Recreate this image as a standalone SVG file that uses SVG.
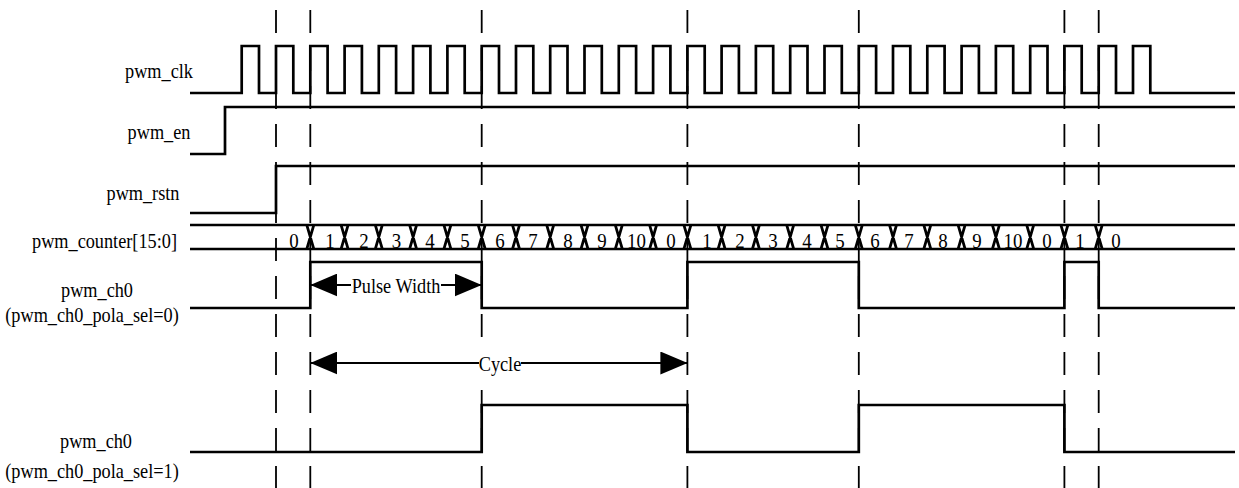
<svg xmlns="http://www.w3.org/2000/svg" width="1239" height="488" viewBox="0 0 1239 488">
<style>
.sig{fill:none;stroke:#000;stroke-width:2.7;stroke-linejoin:miter}
.dash{fill:none;stroke:#000;stroke-width:1.8;stroke-dasharray:23 15}
.lbl{font-family:"Liberation Serif","Times New Roman",serif;font-size:22px;fill:#000;text-anchor:middle}
.num{font-family:"Liberation Serif","Times New Roman",serif;font-size:21px;fill:#000;text-anchor:middle}
.dim{fill:none;stroke:#000;stroke-width:2}
.bg{fill:#fff}
</style>
<defs>
<marker id="ah" viewBox="0 0 27 23" refX="27" refY="11.5" markerWidth="27" markerHeight="23" markerUnits="userSpaceOnUse" orient="auto-start-reverse">
<path d="M0,0 L27,11.5 L0,23 Z" fill="#000"/>
</marker>
</defs>
<rect width="1239" height="488" fill="#fff"/>
<g id="guides">
<path class="dash" d="M276,10 V488 M310.3,10 V488 M481.7,10 V488 M687.4,10 V488 M858.8,10 V488 M1064.4,10 V488 M1098.7,10 V488"/>
</g>
<g id="pwm_clk">
<text class="lbl" transform="translate(159,78) scale(0.83,1)">pwm_clk</text>
<path class="sig" d="M190,93 H241.7 V46 H259 V93 H276 V46 H293.3 V93 H310.3 V46 H327.6 V93 H344.6 V46 H361.9 V93 H378.8 V46 H396.1 V93 H413.1 V46 H430.4 V93 H447.4 V46 H464.7 V93 H481.7 V46 H499 V93 H516 V46 H533.3 V93 H550.2 V46 H567.5 V93 H584.5 V46 H601.8 V93 H618.8 V46 H636.1 V93 H653.1 V46 H670.4 V93 H687.4 V46 H704.7 V93 H721.6 V46 H738.9 V93 H755.9 V46 H773.2 V93 H790.2 V46 H807.5 V93 H824.5 V46 H841.8 V93 H858.8 V46 H876.1 V93 H893 V46 H910.3 V93 H927.3 V46 H944.6 V93 H961.6 V46 H978.9 V93 H995.9 V46 H1013.2 V93 H1030.2 V46 H1047.5 V93 H1064.4 V46 H1081.7 V93 H1098.7 V46 H1116 V93 H1133 V46 H1150.3 V93 H1235"/>
</g>
<g id="pwm_en">
<text class="lbl" transform="translate(159,139) scale(0.83,1)">pwm_en</text>
<path class="sig" d="M190,154 H225 V107 H1235"/>
</g>
<g id="pwm_rstn">
<text class="lbl" transform="translate(143,200) scale(0.83,1)">pwm_rstn</text>
<path class="sig" d="M190,213 H276 V166 H1235"/>
</g>
<g id="pwm_counter">
<text class="lbl" transform="translate(104.5,248) scale(0.83,1)">pwm_counter[15:0]</text>
<path class="sig" d="M190,225 H1235 M190,249 H1235"/>
<path class="sig" d="M306.8,225 L313.8,249 M313.8,225 L306.8,249 M341.1,225 L348.1,249 M348.1,225 L341.1,249 M375.3,225 L382.3,249 M382.3,225 L375.3,249 M409.6,225 L416.6,249 M416.6,225 L409.6,249 M443.9,225 L450.9,249 M450.9,225 L443.9,249 M478.2,225 L485.2,249 M485.2,225 L478.2,249 M512.5,225 L519.5,249 M519.5,225 L512.5,249 M546.7,225 L553.7,249 M553.7,225 L546.7,249 M581,225 L588,249 M588,225 L581,249 M615.3,225 L622.3,249 M622.3,225 L615.3,249 M649.6,225 L656.6,249 M656.6,225 L649.6,249 M683.9,225 L690.9,249 M690.9,225 L683.9,249 M718.1,225 L725.1,249 M725.1,225 L718.1,249 M752.4,225 L759.4,249 M759.4,225 L752.4,249 M786.7,225 L793.7,249 M793.7,225 L786.7,249 M821,225 L828,249 M828,225 L821,249 M855.3,225 L862.3,249 M862.3,225 L855.3,249 M889.5,225 L896.5,249 M896.5,225 L889.5,249 M923.8,225 L930.8,249 M930.8,225 L923.8,249 M958.1,225 L965.1,249 M965.1,225 L958.1,249 M992.4,225 L999.4,249 M999.4,225 L992.4,249 M1026.7,225 L1033.7,249 M1033.7,225 L1026.7,249 M1060.9,225 L1067.9,249 M1067.9,225 L1060.9,249 M1095.2,225 L1102.2,249 M1102.2,225 L1095.2,249"/>
<g class="num">
<text transform="translate(294,247.5) scale(0.9,1)">0</text>
<text transform="translate(330,247.5) scale(0.9,1)">1</text>
<text transform="translate(364,247.5) scale(0.9,1)">2</text>
<text transform="translate(396.5,247.5) scale(0.9,1)">3</text>
<text transform="translate(430,247.5) scale(0.9,1)">4</text>
<text transform="translate(465,247.5) scale(0.9,1)">5</text>
<text transform="translate(500,247.5) scale(0.9,1)">6</text>
<text transform="translate(533,247.5) scale(0.9,1)">7</text>
<text transform="translate(568,247.5) scale(0.9,1)">8</text>
<text transform="translate(602,247.5) scale(0.9,1)">9</text>
<text transform="translate(636.5,247.5) scale(0.9,1)">10</text>
<text transform="translate(671,247.5) scale(0.9,1)">0</text>
<text transform="translate(707,247.5) scale(0.9,1)">1</text>
<text transform="translate(740,247.5) scale(0.9,1)">2</text>
<text transform="translate(773,247.5) scale(0.9,1)">3</text>
<text transform="translate(807,247.5) scale(0.9,1)">4</text>
<text transform="translate(840,247.5) scale(0.9,1)">5</text>
<text transform="translate(875,247.5) scale(0.9,1)">6</text>
<text transform="translate(909,247.5) scale(0.9,1)">7</text>
<text transform="translate(943,247.5) scale(0.9,1)">8</text>
<text transform="translate(977,247.5) scale(0.9,1)">9</text>
<text transform="translate(1013,247.5) scale(0.9,1)">10</text>
<text transform="translate(1047,247.5) scale(0.9,1)">0</text>
<text transform="translate(1080,247.5) scale(0.9,1)">1</text>
<text transform="translate(1116,247.5) scale(0.9,1)">0</text>
</g>
</g>
<g id="pwm_ch0_pol0">
<text class="lbl" transform="translate(97,297) scale(0.83,1)">pwm_ch0</text>
<text class="lbl" transform="translate(92,322) scale(0.83,1)">(pwm_ch0_pola_sel=0)</text>
<path class="sig" d="M190,308 H310.3 V262 H481.7 V308 H687.4 V262 H858.8 V308 H1064.4 V262 H1098.7 V308 H1235"/>
</g>
<g id="pwm_ch0_pol1">
<text class="lbl" transform="translate(96,448) scale(0.83,1)">pwm_ch0</text>
<text class="lbl" transform="translate(92,478) scale(0.83,1)">(pwm_ch0_pola_sel=1)</text>
<path class="sig" d="M190,452 H481.7 V405 H687.4 V452 H858.8 V405 H1064.4 V452 H1235"/>
</g>
<g id="connectors">
<path class="dim" d="M351,285 H310.3" marker-end="url(#ah)"/>
<path class="dim" d="M441,285 H481.7" marker-end="url(#ah)"/>
<path class="dim" d="M479,363 H310.3" marker-end="url(#ah)"/>
<path class="dim" d="M521,363 H687.4" marker-end="url(#ah)"/>
<rect class="bg" x="351.5" y="274" width="89" height="24"/>
<rect class="bg" x="479" y="351" width="42" height="26"/>
<text class="lbl" transform="translate(396,293) scale(0.83,1)">Pulse Width</text>
<text class="lbl" transform="translate(500,371) scale(0.83,1)">Cycle</text>
</g>
</svg>
